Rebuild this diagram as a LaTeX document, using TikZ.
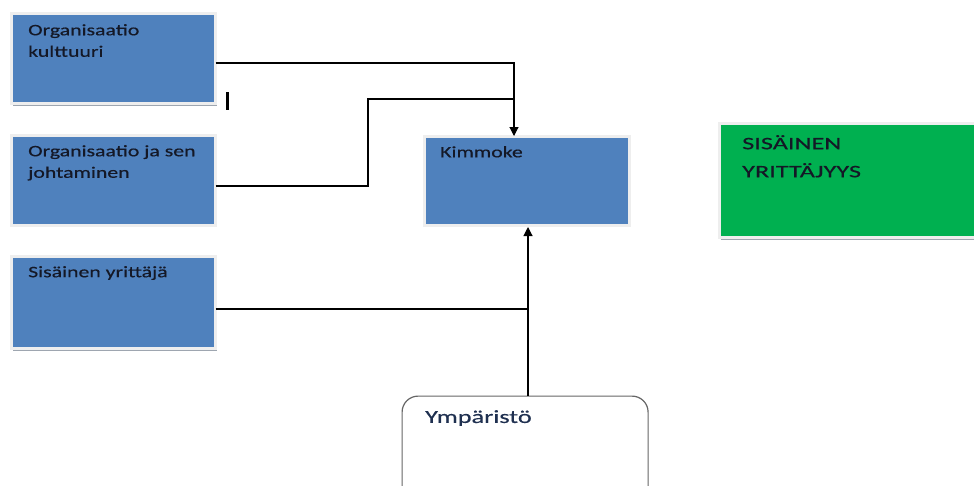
\documentclass[tikz,border=0pt]{standalone}
\usepackage{fontspec}
\setmainfont{Carlito}
\newfontfamily\boxfont[FakeStretch=1.36,FakeBold=0.4]{Carlito}
\newfontfamily\greenfont[FakeStretch=1.5,FakeBold=0.5]{Carlito}
\newfontfamily\envfont[FakeStretch=1.42,FakeBold=0.4]{Carlito}
\usetikzlibrary{arrows.meta,shadows,calc}
\definecolor{boxblue}{HTML}{4F81BD}
\definecolor{boxgreen}{HTML}{00B050}
\definecolor{framegray}{HTML}{EEEEEE}
\definecolor{shadegray}{HTML}{9EA6B0}
\definecolor{txtdark}{HTML}{141826}
\definecolor{envtxt}{HTML}{1F3050}
\tikzset{
  panel/.style={rectangle, draw=framegray, line width=3pt, outer sep=0pt, inner sep=0pt,
    drop shadow={shadow xshift=1.5pt, shadow yshift=-2pt, fill=shadegray, opacity=1}},
  bluebox/.style={panel, fill=boxblue, minimum width=204pt, minimum height=90pt},
  boxtext/.style={anchor=north west, inner sep=0pt, align=left, font=\boxfont\fontsize{16}{21.5}\selectfont, text=txtdark},
  conn/.style={draw=black, line width=1.1pt},
  arr/.style={conn, -{Triangle[width=9pt,length=9pt]}}
}
\begin{document}
\begin{tikzpicture}[x=1pt,y=-1pt]
\useasboundingbox (0,0) rectangle (974,485);
\clip (0,0) rectangle (974,485);
\fill[white] (0,0) rectangle (974,485);

\node[bluebox] (b1) at (113.5,58.5) {};
\node[boxtext] (t1) at (28,24) {Organisaatio\\kulttuuri};

\node[bluebox] (b2) at (113.5,180) {};
\node[boxtext] (t2) at (28,145) {Organisaatio ja sen\\johtaminen};

\node[bluebox, minimum height=92pt] (b3) at (113.5,302.5) {};
\node[boxtext] (t3) at (28,266) {Sisäinen yrittäjä};

\node[bluebox, minimum width=205pt, minimum height=89pt] (k) at (527,180.5) {};
\node[boxtext] (tk) at (440,146) {Kimmoke};

\node[panel, fill=boxgreen, minimum width=300pt, minimum height=114pt] (g) at (869.5,180.5) {};
\node[anchor=north west, inner sep=0pt, align=left, font=\greenfont\fontsize{17.5}{28}\selectfont, text=txtdark] (tg) at (742,135) {SISÄINEN\\YRITTÄJYYS};

\node[rectangle, rounded corners=16pt, draw=black!60, line width=1.2pt, fill=white,
  minimum width=246pt, minimum height=130pt, anchor=north west] (env) at (401.5,395.5) {};
\node[anchor=north west, inner sep=0pt, font=\envfont\fontsize{18.5}{22}\selectfont, text=envtxt] (te) at (425,410) {Ympäristö};

% small bar
\fill[black] (225.5,92) rectangle (228.5,110);

% connectors
\coordinate (j1) at (514,63);
\coordinate (j2) at (514,99);
\coordinate (c1) at (368,99);
\coordinate (c2) at (368,186);
\coordinate (j3) at (528,309);
\draw[conn] ($(b1.east)+(0,4.5)$) -- (j1) -- (j2);
\draw[conn] ($(b2.east)+(0,6)$) -- (c2) -- (c1) -- (j2);
\draw[arr] (j2) -- (j2 |- k.north);
\draw[conn] ($(b3.east)+(0,6.5)$) -- (j3);
\draw[arr] (j3 |- env.north) -- ($(j3 |- k.south)+(0,2)$);
\end{tikzpicture}
\end{document}
